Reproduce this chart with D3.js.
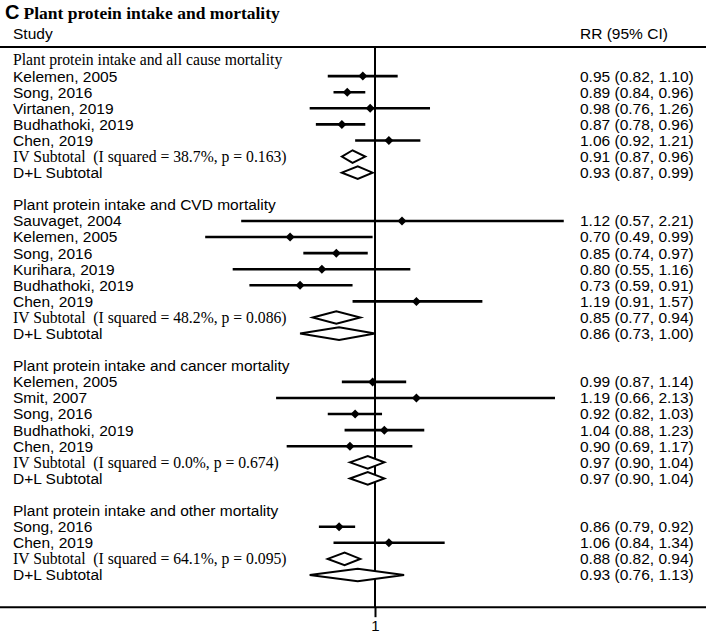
<!DOCTYPE html>
<html><head><meta charset="utf-8">
<script src="https://cdn.jsdelivr.net/npm/d3@7"></script>
<style>body{margin:0;background:#fff}svg{display:block}text{white-space:pre}</style>
</head><body>
<script>
// ---- data ----
const labels = [
 "Plant protein intake and all cause mortality","Kelemen, 2005","Song, 2016","Virtanen, 2019","Budhathoki, 2019","Chen, 2019","IV Subtotal  (I squared = 38.7%, p = 0.163)","D+L Subtotal","",
 "Plant protein intake and CVD mortality","Sauvaget, 2004","Kelemen, 2005","Song, 2016","Kurihara, 2019","Budhathoki, 2019","Chen, 2019","IV Subtotal  (I squared = 48.2%, p = 0.086)","D+L Subtotal","",
 "Plant protein intake and cancer mortality","Kelemen, 2005","Smit, 2007","Song, 2016","Budhathoki, 2019","Chen, 2019","IV Subtotal  (I squared = 0.0%, p = 0.674)","D+L Subtotal","",
 "Plant protein intake and other mortality","Song, 2016","Chen, 2019","IV Subtotal  (I squared = 64.1%, p = 0.095)","D+L Subtotal"
];
const rowType = [
 "headS","s","s","s","s","s","iv","dl","",
 "head","s","s","s","s","s","s","iv","dl","",
 "head","s","s","s","s","s","iv","dl","",
 "head","s","s","iv","dl"
];
const rr = [
 null,0.95,0.89,0.98,0.87,1.06,0.91,0.93,null,
 null,1.12,0.70,0.85,0.80,0.73,1.19,0.85,0.86,null,
 null,0.99,1.19,0.92,1.04,0.90,0.97,0.97,null,
 null,0.86,1.06,0.88,0.93
];
const lower = [
 null,0.82,0.84,0.76,0.78,0.92,0.87,0.87,null,
 null,0.57,0.49,0.74,0.55,0.59,0.91,0.77,0.73,null,
 null,0.87,0.66,0.82,0.88,0.69,0.90,0.90,null,
 null,0.79,0.84,0.82,0.76
];
const upper = [
 null,1.10,0.96,1.26,0.96,1.21,0.96,0.99,null,
 null,2.21,0.99,0.97,1.16,0.91,1.57,0.94,1.00,null,
 null,1.14,2.13,1.03,1.23,1.17,1.04,1.04,null,
 null,0.92,1.34,0.94,1.13
];
const tickValues = [1];
const title = "Plant protein intake and mortality";

// ---- drawing ----
const W = 706, H = 633;
const svg = d3.select("body").append("svg").attr("width", W).attr("height", H);
const sans = "'Liberation Sans', Arial, sans-serif";
const serif = "'Liberation Serif', 'Times New Roman', serif";

const x = d3.scaleLog().domain([0.5, 2]).range([210, 540]);
const y = d3.scaleLinear().domain([0, 32]).range([60, 575]);
const axisY = y(34);
const f2 = d3.format(".2f");

// title
const t = svg.append("text").attr("x", 5).attr("y", 19).attr("fill", "#000");
t.append("tspan").attr("font-family", sans).attr("font-weight", "bold").attr("font-size", 20).text("C");
t.append("tspan").attr("dx", 4).attr("font-family", serif).attr("font-weight", "bold").attr("font-size", 17.5).text(title);

svg.append("text").attr("x", 13).attr("y", 34).attr("dy", "0.35em").attr("font-family", sans).attr("font-size", 15.5).text("Study");
svg.append("text").attr("x", 580).attr("y", 34).attr("dy", "0.35em").attr("font-family", sans).attr("font-size", 15.5).text("RR (95% CI)");

// lines
svg.append("line").attr("x1", 0).attr("x2", W).attr("y1", 47).attr("y2", 47).attr("stroke", "#000").attr("stroke-width", 2);
svg.append("line").attr("x1", 0).attr("x2", W).attr("y1", axisY).attr("y2", axisY).attr("stroke", "#000").attr("stroke-width", 2);
svg.append("line").attr("x1", x(1)).attr("x2", x(1)).attr("y1", 47).attr("y2", axisY).attr("stroke", "#000").attr("stroke-width", 2);

const axis = d3.axisBottom(x).tickValues(tickValues).tickSize(10).tickFormat(d3.format("d"));
const ag = svg.append("g").attr("transform", `translate(0,${axisY})`).call(axis);
ag.select(".domain").remove();
ag.selectAll(".tick line").attr("stroke", "#000").attr("stroke-width", 2);
ag.selectAll(".tick text").attr("font-family", sans).attr("font-size", 15).attr("fill", "#000").attr("y", 13);

const rows = labels.map((l, i) => ({l, i, type: rowType[i], rr: rr[i], lo: lower[i], hi: upper[i]}));

// labels
svg.append("g").selectAll("text").data(rows.filter(d => d.l)).join("text")
  .attr("x", 13).attr("y", d => y(d.i)).attr("dy", "0.35em")
  .attr("font-family", d => (d.type === "iv" || d.type === "headS") ? serif : sans)
  .attr("font-size", d => (d.type === "iv" || d.type === "headS") ? 15.7 : 15.5)
  .attr("fill", "#000")
  .text(d => d.l);

// values
svg.append("g").selectAll("text").data(rows.filter(d => d.rr != null)).join("text")
  .attr("x", 580).attr("y", d => y(d.i)).attr("dy", "0.35em")
  .attr("font-family", sans).attr("font-size", 15.5).attr("fill", "#000")
  .text(d => `${f2(d.rr)} (${f2(d.lo)}, ${f2(d.hi)})`);

// study CIs
const studies = rows.filter(d => d.type === "s");
svg.append("g").selectAll("line").data(studies).join("line")
  .attr("x1", d => x(d.lo)).attr("x2", d => x(d.hi))
  .attr("y1", d => y(d.i)).attr("y2", d => y(d.i))
  .attr("stroke", "#000").attr("stroke-width", 2.6);
svg.append("g").selectAll("path").data(studies).join("path")
  .attr("d", d => { const cx = x(d.rr), cy = y(d.i), s = 4.5; return `M${cx - s},${cy}L${cx},${cy - s}L${cx + s},${cy}L${cx},${cy + s}Z`; })
  .attr("fill", "#000");

// summary diamonds
const sums = rows.filter(d => d.type === "iv" || d.type === "dl");
svg.append("g").selectAll("path").data(sums).join("path")
  .attr("d", d => { const cy = y(d.i), h = 6.3; return `M${x(d.lo)},${cy}L${x(d.rr)},${cy - h}L${x(d.hi)},${cy}L${x(d.rr)},${cy + h}Z`; })
  .attr("fill", "#fff").attr("stroke", "#000").attr("stroke-width", 2);
</script>
</body></html>
